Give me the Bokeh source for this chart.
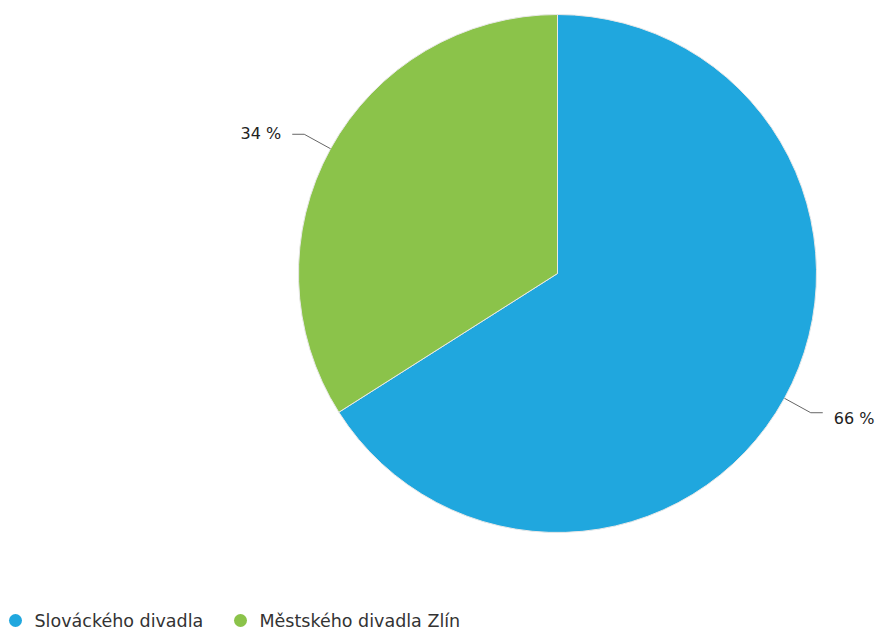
import numpy as np
from bokeh.plotting import figure
from bokeh.models import Range1d, ColumnDataSource
from bokeh.core.properties import value
from bokeh.embed import file_html
from bokeh.resources import INLINE

categories = ["Slováckého divadla", "Městského divadla Zlín"]
shares = [66, 34]
colors = ["#20a7de", "#8bc34a"]
labels = ["66 %", "34 %"]

W, H = 878, 633
p = figure(width=W, height=H, output_backend="svg", toolbar_location=None,
           x_range=Range1d(0, W), y_range=Range1d(0, H), min_border=0)
p.axis.visible = False
p.grid.visible = False
p.outline_line_color = None

cx, cy, r = 557, H - 273, 259
frac = np.array(shares, dtype=float) / sum(shares)
ends = np.pi / 2 - np.concatenate([[0], np.cumsum(frac)[:-1]]) * 2 * np.pi
starts = ends - frac * 2 * np.pi
src = ColumnDataSource(dict(start=starts, end=ends, color=colors))
p.wedge(x=cx, y=cy, radius=r, start_angle="start", end_angle="end",
        fill_color="color", line_color="#e8e8e8", line_width=1, source=src)

mids = (starts + ends) / 2
for m, lab in zip(mids, labels):
    x0, y0 = cx + r * np.cos(m), cy + r * np.sin(m)
    x1, y1 = cx + (r + 30) * np.cos(m), cy + (r + 30) * np.sin(m)
    side = 1 if np.cos(m) > 0 else -1
    x2 = x1 + side * 12
    p.line([x0, x1, x2], [y0, y1, y1], line_color="#666666", line_width=1)
    p.text(x=[x2 + side * 11], y=[y1 - (6 if side > 0 else -1)], text=[lab],
           text_align="left" if side > 0 else "right", text_baseline="middle",
           text_font=value("DejaVu Sans"), text_font_size="16px", text_color="#222222")

# legend
lx = [15, 240]
ly = H - 620
p.scatter(x=lx, y=[ly, ly], size=13, marker="circle", fill_color=colors, line_color=None)
p.text(x=[x + 19 for x in lx], y=[ly, ly], text=categories, text_baseline="middle",
       text_font=value("DejaVu Sans"), text_font_size="17.5px", text_color="#333333")

open("out.html", "w").write(file_html(p, INLINE))
